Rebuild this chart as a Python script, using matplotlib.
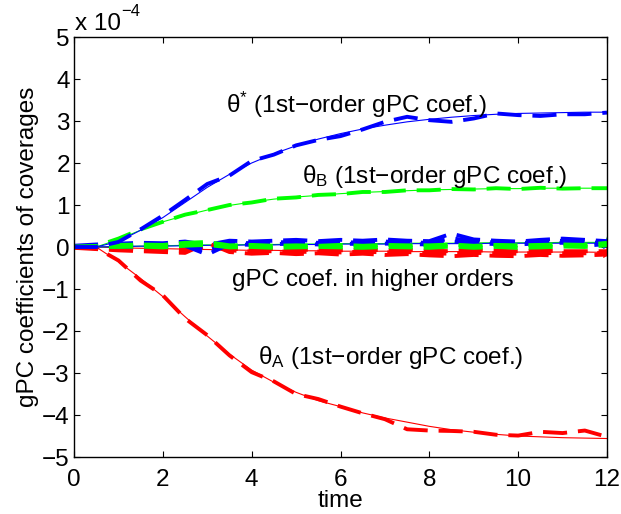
import numpy as np
import matplotlib
matplotlib.use('Agg')
import matplotlib.pyplot as plt

plt.rcParams['font.family'] = ['Liberation Sans', 'DejaVu Sans']
plt.rcParams['mathtext.fontset'] = 'custom'
plt.rcParams['mathtext.rm'] = 'Liberation Sans'
plt.rcParams['mathtext.it'] = 'Liberation Sans'

# time grid (read every 0.5)
time = [0.0, 0.5, 1.0, 1.5, 2.0, 2.5, 3.0, 3.5, 4.0, 4.5, 5.0, 5.5, 6.0,
        6.5, 7.0, 7.5, 8.0, 8.5, 9.0, 9.5, 10.0, 10.5, 11.0, 11.5, 12.0]

# 1st-order gPC coefficients (units of 1e-4), smooth reference curves
theta_star = [0.00, 0.00, 0.13, 0.40, 0.70, 1.06, 1.42, 1.73, 2.00, 2.22,
              2.41, 2.57, 2.70, 2.81, 2.90, 2.98, 3.04, 3.09, 3.13, 3.16,
              3.18, 3.19, 3.20, 3.21, 3.21]
theta_B = [0.00, 0.00, 0.18, 0.40, 0.60, 0.75, 0.88, 0.99, 1.07, 1.14,
           1.19, 1.23, 1.27, 1.30, 1.32, 1.34, 1.36, 1.37, 1.38, 1.39,
           1.39, 1.40, 1.40, 1.40, 1.40]
theta_A = [0.00, 0.00, -0.35, -0.75, -1.18, -1.66, -2.12, -2.55, -2.93,
           -3.22, -3.46, -3.66, -3.80, -3.95, -4.07, -4.17, -4.27, -4.35,
           -4.41, -4.46, -4.50, -4.52, -4.54, -4.55, -4.56]

# 1st-order coefficients, noisy estimates (dashed)
theta_star_mc = [0.00, 0.00, 0.12, 0.42, 0.75, 1.12, 1.50, 1.70, 2.05,
                 2.20, 2.42, 2.55, 2.64, 2.80, 2.98, 3.10, 3.02, 2.98, 3.06,
                 3.18, 3.14, 3.12, 3.16, 3.16, 3.20]
theta_B_mc = [0.00, 0.02, 0.20, 0.42, 0.60, 0.77, 0.88, 1.00, 1.06, 1.15,
              1.18, 1.24, 1.26, 1.31, 1.31, 1.35, 1.35, 1.38, 1.37, 1.40,
              1.38, 1.41, 1.39, 1.40, 1.40]
theta_A_mc = [0.00, -0.02, -0.32, -0.80, -1.15, -1.70, -2.10, -2.58, -2.98,
              -3.20, -3.50, -3.62, -3.80, -3.96, -4.10, -4.34, -4.37, -4.38,
              -4.40, -4.47, -4.49, -4.40, -4.43, -4.37, -4.52]

# higher-order gPC coefficients (noisy, near zero)
hi_red = [
    [-0.02, -0.05, -0.08, -0.10, -0.12, -0.14, 0.10, -0.12, -0.16, -0.14,
     -0.17, -0.15, -0.18, -0.16, -0.19, -0.17, -0.20, -0.22, -0.19, -0.21,
     -0.22, -0.19, -0.21, -0.20, -0.18],
    [-0.01, -0.03, -0.05, -0.07, -0.08, -0.10, 0.05, -0.08, -0.11, -0.10,
     -0.12, -0.11, -0.13, -0.11, -0.13, -0.12, -0.15, -0.16, -0.14, -0.15,
     -0.16, -0.14, -0.15, -0.15, -0.14],
    [0.00, -0.01, -0.02, -0.04, -0.04, -0.06, 0.00, -0.04, -0.06, -0.05,
     -0.07, -0.06, -0.08, -0.06, -0.08, -0.07, -0.09, -0.10, -0.08, -0.09,
     -0.10, -0.09, -0.10, -0.10, -0.10],
]
hi_green = [
    [0.01, 0.02, 0.05, 0.06, 0.05, 0.10, 0.12, 0.04, 0.05, 0.03, 0.04, 0.03,
     0.05, 0.03, 0.05, 0.04, 0.04, 0.06, 0.03, 0.05, 0.04, 0.05, 0.06, 0.05,
     0.10],
    [0.00, 0.00, 0.00, 0.01, -0.01, 0.03, 0.05, -0.01, 0.00, -0.02, -0.01,
     0.00, -0.01, -0.02, 0.00, -0.01, -0.02, 0.01, -0.02, 0.00, -0.02, -0.01,
     0.01, 0.00, 0.04],
]
hi_blue = [
    [0.03, 0.06, 0.08, 0.10, 0.09, 0.13, 0.05, 0.15, 0.13, 0.15, 0.17, 0.14,
     0.17, 0.15, 0.18, 0.15, 0.14, 0.32, 0.18, 0.15, 0.13, 0.17, 0.20, 0.17,
     0.14],
    [0.01, 0.03, 0.04, 0.05, 0.06, 0.08, -0.10, 0.11, 0.09, 0.11, 0.12, 0.10,
     0.12, 0.10, 0.13, 0.11, 0.10, 0.21, 0.13, 0.11, 0.09, 0.13, 0.15, 0.11,
     0.10],
    [0.00, 0.01, 0.00, 0.01, 0.02, 0.03, -0.18, 0.07, 0.05, 0.07, 0.08, 0.06,
     0.08, 0.07, 0.08, 0.07, 0.06, 0.13, 0.09, 0.07, 0.06, 0.09, 0.10, 0.03,
     0.07],
]
# smooth higher-order curves, ending with asterisk markers
hi_red_ref = [0.00, 0.00, -0.02, -0.03, -0.04, -0.05, -0.06, -0.07, -0.08,
              -0.08, -0.09, -0.09, -0.10, -0.10, -0.10, -0.11, -0.11, -0.11,
              -0.11, -0.12, -0.12, -0.12, -0.12, -0.12, -0.13]
hi_green_ref = [0.00, 0.00, 0.01, 0.02, 0.03, 0.04, 0.05, 0.05, 0.06, 0.06,
                0.07, 0.07, 0.08, 0.08, 0.08, 0.09, 0.09, 0.09, 0.10, 0.10,
                0.10, 0.10, 0.11, 0.11, 0.11]
hi_blue_ref = [0.00, 0.00, 0.01, 0.02, 0.02, 0.03, 0.04, 0.04, 0.05, 0.05,
               0.06, 0.06, 0.07, 0.07, 0.07, 0.08, 0.08, 0.08, 0.08, 0.09,
               0.09, 0.09, 0.09, 0.09, 0.09]

RED, GREEN, BLUE = (1, 0, 0), (0, 1, 0), (0, 0, 1)
DASH = (6.2, 2.8)
FS = 17.5

fig = plt.figure(figsize=(6.21, 5.14), dpi=100)
ax = fig.add_axes([74/621, 1-457/514, 533/621, 420/514])

# higher orders: thin smooth curves
for ref, c in [(hi_red_ref, RED), (hi_green_ref, GREEN), (hi_blue_ref, BLUE)]:
    ax.plot(time, ref, color=c, lw=0.8)
    ax.plot(time[-1], ref[-1], '*', color=c, ms=9, mew=0.8)

# higher orders: noisy dashed blobs
for group, c in [(hi_red, RED), (hi_blue, BLUE), (hi_green, GREEN)]:
    for s in group:
        ax.plot(time, s, color=c, lw=2.8, dashes=DASH)

# 1st-order curves
for ref, mc, c in [(theta_A, theta_A_mc, RED),
                   (theta_B, theta_B_mc, GREEN),
                   (theta_star, theta_star_mc, BLUE)]:
    ax.plot(time, mc, color=c, lw=2.8, dashes=DASH)
    ax.plot(time, ref, color=c, lw=0.8)

ax.set_xlim(0, 12)
ax.set_ylim(-5, 5)
ax.set_xticks(range(0, 13, 2))
ax.set_yticks(range(-5, 6))
ax.tick_params(direction='in', length=4, width=0.8, top=True, right=True,
               labelsize=FS)
ax.tick_params(axis='x', pad=9)
ax.tick_params(axis='y', pad=3)
for sp in ax.spines.values():
    sp.set_linewidth(1.0)

ax.set_xlabel('time', fontsize=FS, labelpad=-1)
ax.set_ylabel('gPC coefficients of coverages', fontsize=FS, labelpad=2)

ax.text(3.42, 3.38, r'$\mathrm{\theta}^{*}$ (1st−order gPC coef.)',
        fontsize=FS, va='center')
ax.text(5.13, 1.67, r'$\mathrm{\theta_{B}}$ (1st−order gPC coef.)',
        fontsize=FS, va='center')
ax.text(3.56, -0.79, 'gPC coef. in higher orders', fontsize=FS, va='center')
ax.text(4.14, -2.62, r'$\mathrm{\theta_{A}}$ (1st−order gPC coef.)',
        fontsize=FS, va='center')

fig.text(75/621, 1-30/514, 'x 10', fontsize=FS, va='baseline')
fig.text(121/621, 1-16/514, '−4', fontsize=12, va='baseline')

fig.savefig('out.png', dpi=100)
